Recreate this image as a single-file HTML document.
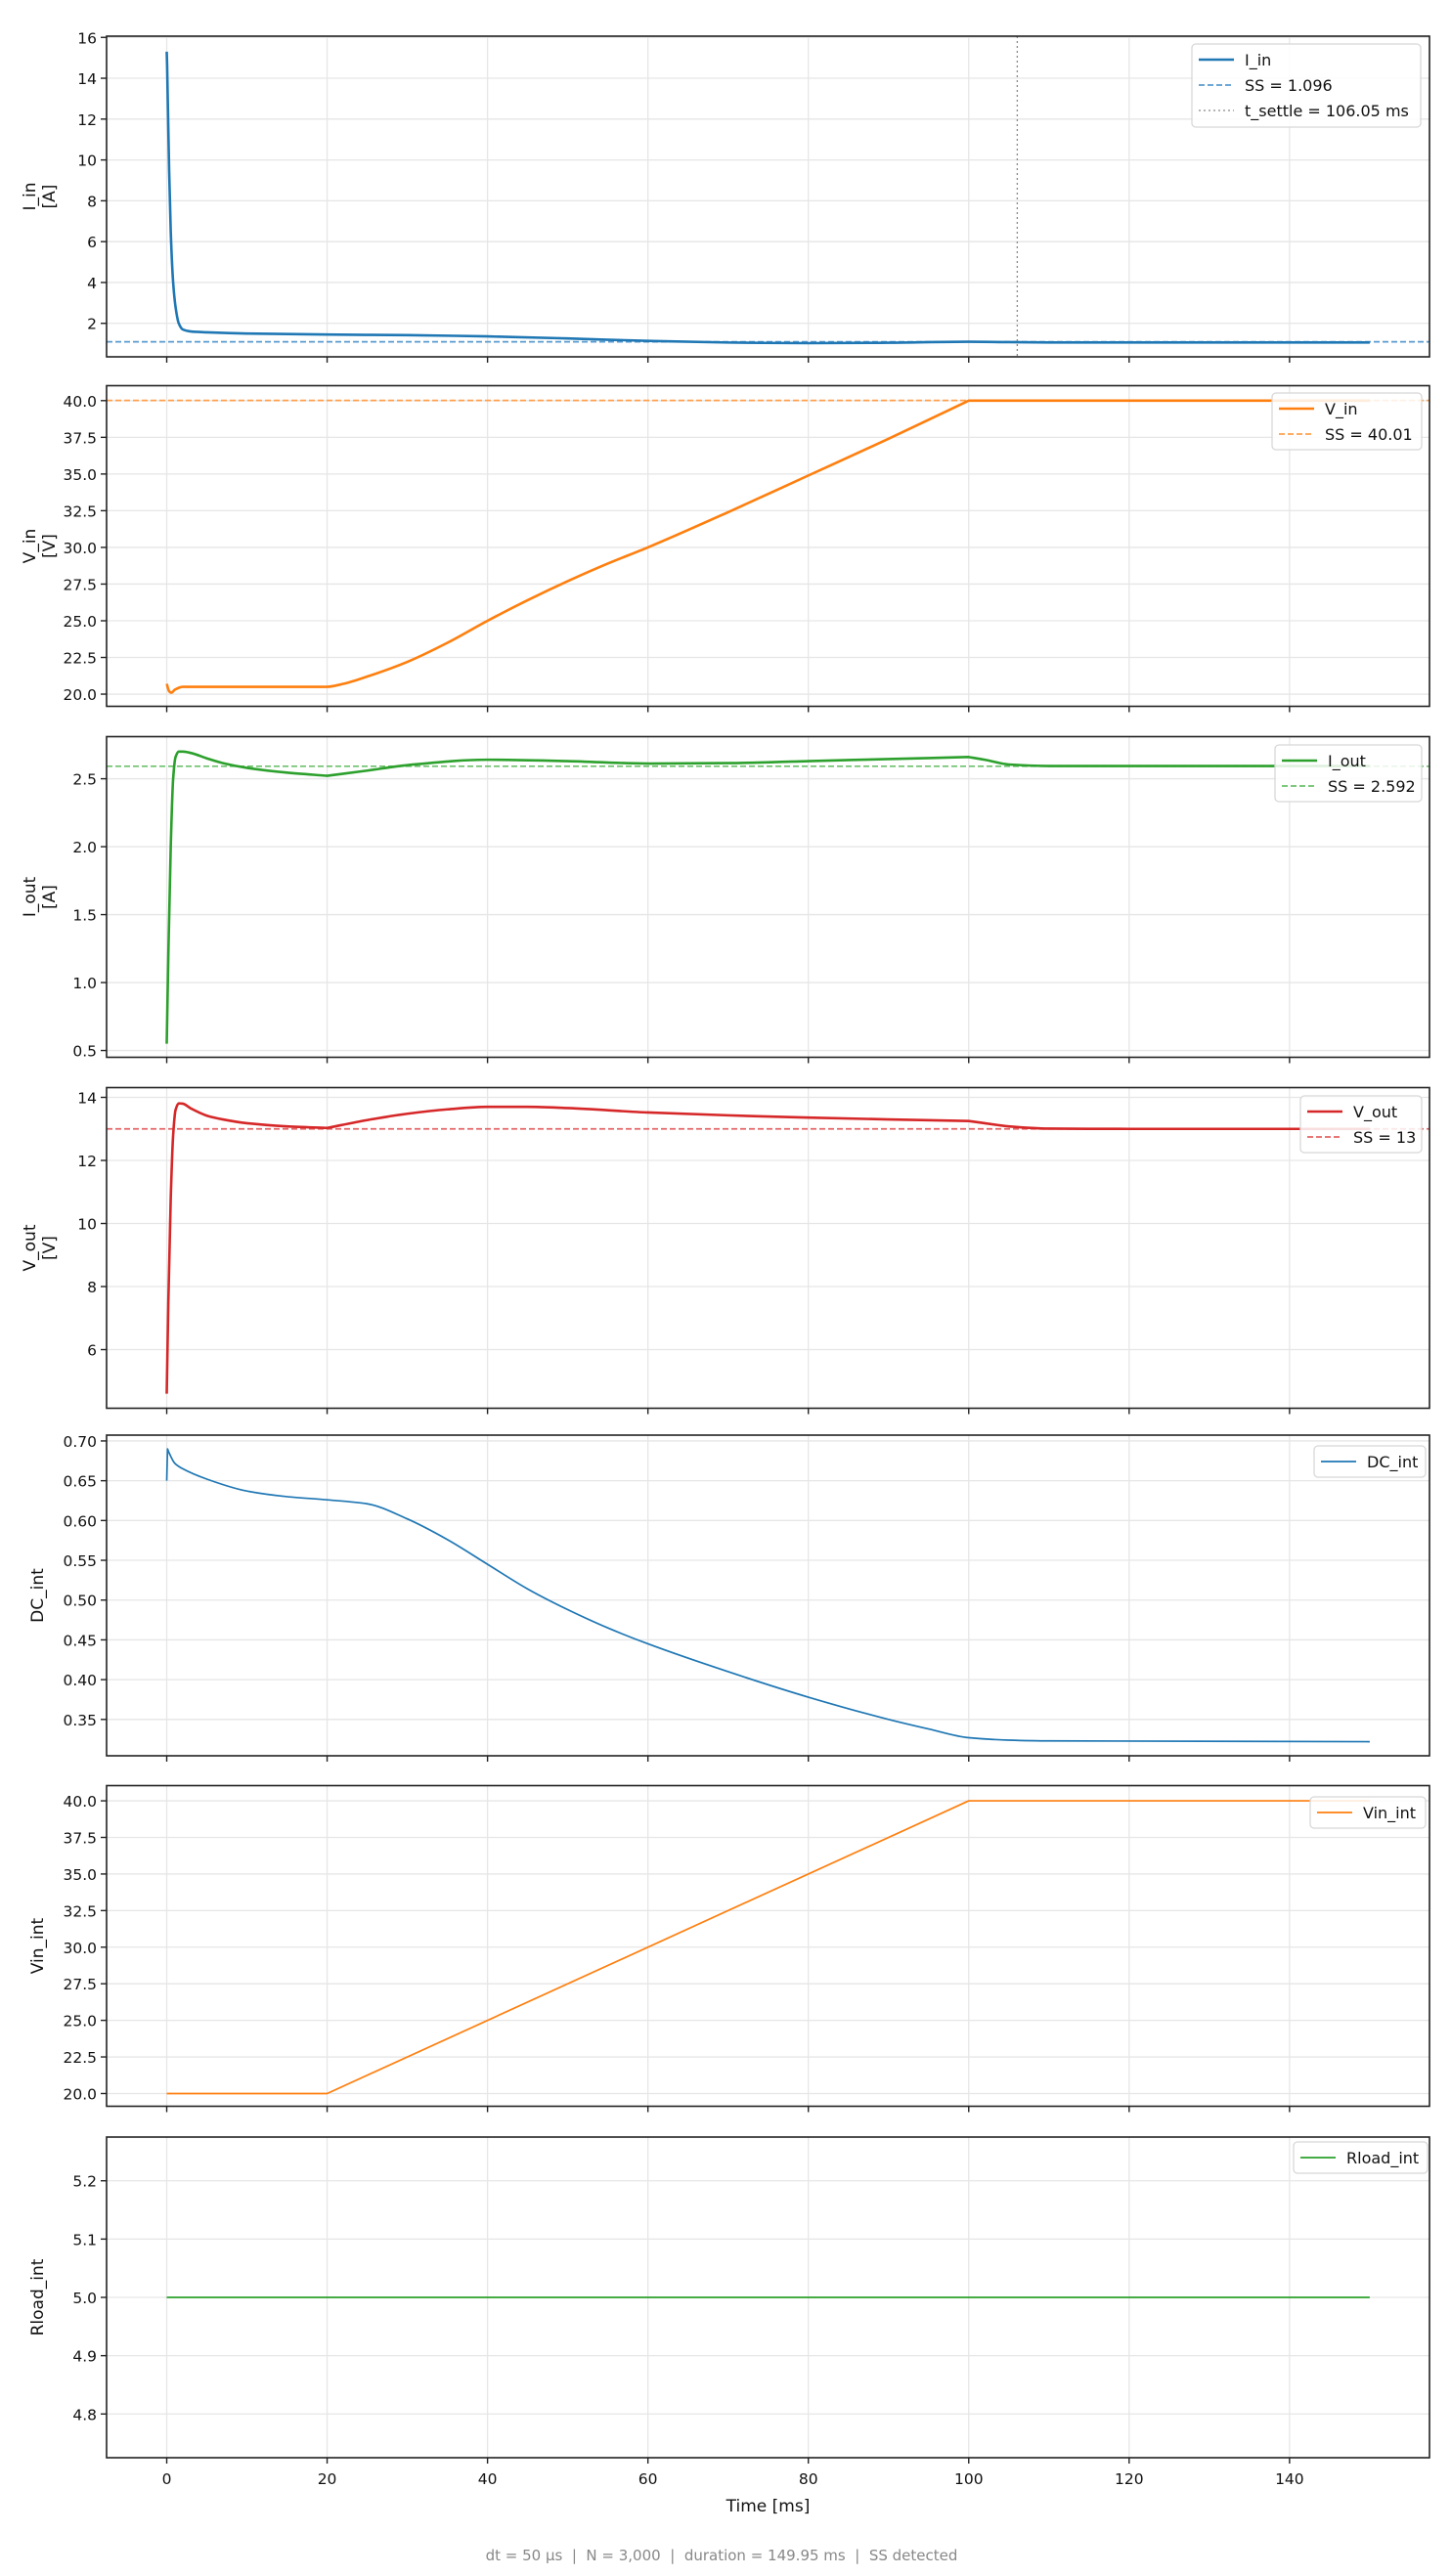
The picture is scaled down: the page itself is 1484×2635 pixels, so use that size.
<!DOCTYPE html>
<html><head><meta charset="utf-8">
<style>
html,body{margin:0;padding:0;background:#fff;}
svg{display:block;font-family:"DejaVu Sans","Liberation Sans",sans-serif;}
</style></head>
<body>
<svg id="chart" width="1484" height="2635" viewBox="0 0 1484 2635" xmlns="http://www.w3.org/2000/svg"></svg>
<script>
// ---- data ----
const xTicks = [0,20,40,60,80,100,120,140];
const iinT = [0,0.05,0.15,0.3,0.5,0.8,1.1,1.5,2,3,5,10,20,30,40,50,60,70,80,90,100,105,110,120,150];
const iinV = [15.3,14.6,12.5,9.5,6.5,4.0,2.8,2.0,1.7,1.6,1.56,1.5,1.45,1.42,1.36,1.26,1.14,1.06,1.03,1.05,1.1,1.08,1.065,1.065,1.065];
const iinSS = 1.096, iinSettle = 106.05;
const vinT = [0,0.3,0.6,1,2,5,10,20,22,25,30,35,40,45,50,55,60,70,80,90,100,110,150];
const vinV = [20.7,20.2,20.1,20.3,20.5,20.5,20.5,20.5,20.7,21.2,22.2,23.5,25.0,26.4,27.7,28.9,30.0,32.4,34.9,37.4,40.0,40.0,40.0];
const vinSS = 40.01;
const ioutT = [0,0.2,0.5,0.8,1.1,1.5,2,3,5,7,10,15,20,25,30,40,50,60,70,80,90,100,102,105,110,120,150];
const ioutV = [0.55,1.2,2.0,2.5,2.66,2.70,2.70,2.69,2.65,2.615,2.58,2.545,2.522,2.56,2.60,2.64,2.63,2.612,2.615,2.63,2.645,2.66,2.64,2.605,2.594,2.594,2.594];
const ioutSS = 2.592;
const voutT = [0,0.2,0.5,0.8,1.1,1.5,2,3,5,7,10,15,20,25,30,35,40,45,50,60,70,80,90,100,102,105,110,120,150];
const voutV = [4.6,7.5,10.8,12.8,13.6,13.81,13.8,13.65,13.42,13.3,13.18,13.08,13.03,13.28,13.48,13.62,13.70,13.70,13.66,13.52,13.43,13.36,13.3,13.25,13.18,13.08,13.01,13.0,13.0];
const voutSS = 13;
const dcT = [0,0.1,0.3,1,2,5,10,15,20,25,30,35,40,45,50,55,60,70,80,90,95,100,105,110,150];
const dcV = [0.65,0.69,0.685,0.672,0.665,0.652,0.637,0.63,0.626,0.621,0.602,0.576,0.545,0.514,0.488,0.465,0.445,0.41,0.378,0.35,0.338,0.327,0.324,0.323,0.322];
const vintT = [0,20,100,150];
const vintV = [20,20,40,40];
const rloadT = [0,150];
const rloadV = [5.0,5.0];

const panels = [
  {name:'i-in', top:37, ylim:[0.36,16.06], ticks:[2,4,6,8,10,12,14,16], fmt:v=>String(v), label:['I_in','[A]'], t:iinT, v:iinV, kinks:[0.05], color:'#1f77b4', lw:2.6, ss:iinSS, ssColor:'#5a9bd0', settle:iinSettle, legend:['I_in','SS = 1.096','t_settle = 106.05 ms']},
  {name:'v-in', top:394.5, ylim:[19.17,41.02], ticks:[20,22.5,25,27.5,30,32.5,35,37.5,40], fmt:v=>v.toFixed(1), label:['V_in','[V]'], t:vinT, v:vinV, kinks:[100], color:'#ff7f0e', lw:2.6, ss:vinSS, ssColor:'#ffa04d', legend:['V_in','SS = 40.01']},
  {name:'i-out', top:753.5, ylim:[0.45,2.81], ticks:[0.5,1.0,1.5,2.0,2.5], fmt:v=>v.toFixed(1), label:['I_out','[A]'], t:ioutT, v:ioutV, kinks:[20,100], color:'#2ca02c', lw:2.6, ss:ioutSS, ssColor:'#6cc06c', legend:['I_out','SS = 2.592']},
  {name:'v-out', top:1112.5, ylim:[4.14,14.31], ticks:[6,8,10,12,14], fmt:v=>String(v), label:['V_out','[V]'], t:voutT, v:voutV, kinks:[20,100], color:'#d62728', lw:2.6, ss:voutSS, ssColor:'#e46566', legend:['V_out','SS = 13']},
  {name:'dc-int', top:1468, ylim:[0.3043,0.7073], ticks:[0.35,0.40,0.45,0.50,0.55,0.60,0.65,0.70], fmt:v=>v.toFixed(2), label:['DC_int'], t:dcT, v:dcV, kinks:[0.1], color:'#1f77b4', lw:1.7, legend:['DC_int']},
  {name:'vin-int', top:1826.5, ylim:[19.13,41.04], ticks:[20,22.5,25,27.5,30,32.5,35,37.5,40], fmt:v=>v.toFixed(1), label:['Vin_int'], t:vintT, v:vintV, linear:true, color:'#ff7f0e', lw:1.7, legend:['Vin_int']},
  {name:'rload-int', top:2186, ylim:[4.725,5.275], ticks:[4.8,4.9,5.0,5.1,5.2], fmt:v=>v.toFixed(1), label:['Rload_int'], t:rloadT, v:rloadV, linear:true, color:'#2ca02c', lw:1.7, legend:['Rload_int']}
];
const legendBoxes = [[1219,45,234,85],[1301,402,153,58],[1304,762,150,58],[1330,1121,124,58],[1344,1479,114,32],[1340,1838,118,32],[1323,2191,137,32]];

// ---- drawing ----
const NS='http://www.w3.org/2000/svg';
const svg=document.getElementById('chart');
const L=109, R=1462, H=328, X0=-7.5, X1=157.45;
const xs = t => L + (t - X0)/(X1 - X0)*(R - L);
function mk(tag, attrs, parent){const e=document.createElementNS(NS,tag);for(const k in attrs)e.setAttribute(k,attrs[k]);(parent||svg).appendChild(e);return e;}
function linPath(px,py){return px.map((x,i)=>(i?'L':'M')+x.toFixed(2)+','+py[i].toFixed(2)).join(' ');}
// monotone cubic path with optional kink points (one-sided tangents)
function monoPath(px,py,kinkIdx){
  const n=px.length; if(n<3) return linPath(px,py);
  const dx=[],s=[];
  for(let i=0;i<n-1;i++){dx.push(px[i+1]-px[i]);s.push((py[i+1]-py[i])/(dx[i]||1e-9));}
  const mL=[0],mR=[s[0]];
  for(let i=1;i<n-1;i++){
    if(kinkIdx.has(i)){mL.push(s[i-1]);mR.push(s[i]);continue;}
    let m; if(s[i-1]*s[i]<=0) m=0; else { const w1=2*dx[i]+dx[i-1], w2=dx[i]+2*dx[i-1]; m=(w1+w2)/(w1/s[i-1]+w2/s[i]); }
    mL.push(m);mR.push(m);
  }
  mL.push(s[n-2]);mR.push(0);
  let d='M'+px[0].toFixed(2)+','+py[0].toFixed(2);
  for(let i=0;i<n-1;i++){const h=dx[i]/3;
    d+=` C${(px[i]+h).toFixed(2)},${(py[i]+mR[i]*h).toFixed(2)} ${(px[i+1]-h).toFixed(2)},${(py[i+1]-mL[i+1]*h).toFixed(2)} ${px[i+1].toFixed(2)},${py[i+1].toFixed(2)}`;}
  return d;
}

panels.forEach((p,pi)=>{
  const top=p.top, bot=p.top+H;
  const ys = v => bot - (v - p.ylim[0])/(p.ylim[1]-p.ylim[0])*H;
  const g=mk('g',{});
  
  
  xTicks.forEach(t=>{ const gl=mk('line',{x1:xs(t),x2:xs(t),y1:top,y2:bot,stroke:'#e6e6e6','stroke-width':1.3},g);
    
     });
  p.ticks.forEach(v=>{ const gl=mk('line',{x1:L,x2:R,y1:ys(v),y2:ys(v),stroke:'#e6e6e6','stroke-width':1.3},g);
    
     });
  if(p.ss!==undefined){ const s=mk('line',{x1:L,x2:R,y1:ys(p.ss),y2:ys(p.ss),stroke:p.ssColor,'stroke-width':1.7,'stroke-dasharray':'6 3'},g);
    
     }
  const px=p.t.map(xs), py=p.v.map(ys);
  const kinkIdx=new Set((p.kinks||[]).map(k=>p.t.indexOf(k)));
  const d = p.linear ? linPath(px,py) : monoPath(px,py,kinkIdx);
  const path=mk('path',{d:d,fill:'none',stroke:p.color,'stroke-width':p.lw,'stroke-linejoin':'round'},g);
  
  
  if(p.settle!==undefined){ const s=mk('line',{x1:xs(p.settle),x2:xs(p.settle),y1:top,y2:bot,stroke:'#888','stroke-width':1.3,'stroke-dasharray':'2 3'},g);
    
     }
  const sp=mk('rect',{x:L,y:top,width:R-L,height:H,fill:'none',stroke:'#222','stroke-width':1.6},g);
  
  
  xTicks.forEach(t=>{ mk('line',{x1:xs(t),x2:xs(t),y1:bot,y2:bot+6,stroke:'#222','stroke-width':1.4},g);
    if(pi===panels.length-1){ const tx=mk('text',{x:xs(t),y:bot+27,'text-anchor':'middle','font-size':15.5,fill:'#111'},g); tx.textContent=t;
      
       } });
  p.ticks.forEach(v=>{ mk('line',{x1:L-6,x2:L,y1:ys(v),y2:ys(v),stroke:'#222','stroke-width':1.4},g);
    const tx=mk('text',{x:L-10,y:ys(v)+6,'text-anchor':'end','font-size':15.5,fill:'#111'},g); tx.textContent=p.fmt(v);
    
     });
  const cy=top+H/2;
  const lab=mk('text',{transform:`translate(${p.label.length>1?36:44},${cy}) rotate(-90)`,'text-anchor':'middle','font-size':17,fill:'#111'},g);
  
  
  p.label.forEach((s,i)=>{ const ts=mk('tspan',{x:0,dy:i?20:0},lab); ts.textContent=s; });
  const b=legendBoxes[pi];
  const lg=mk('g',{},g);
  
  
  mk('rect',{x:b[0],y:b[1],width:b[2],height:b[3],rx:4,fill:'#fff','fill-opacity':0.85,stroke:'#d8d8d8','stroke-width':1.3},lg);
  p.legend.forEach((s,i)=>{
    const ry=b[1]+16+i*26;
    let st={x1:b[0]+7,x2:b[0]+43,y1:ry,y2:ry,stroke:p.color,'stroke-width':p.lw};
    if(i===1&&p.ss!==undefined){st.stroke=p.ssColor;st['stroke-width']=1.7;st['stroke-dasharray']='6 3';}
    if(i===2){st.stroke='#888';st['stroke-width']=1.3;st['stroke-dasharray']='2 3';}
    const ln=mk('line',st,lg);
    
    
    const tx=mk('text',{x:b[0]+54,y:ry+6,'font-size':16,fill:'#111'},lg); tx.textContent=s;
    
    
  });
});
const xl=mk('text',{x:(L+R)/2,y:2569,'text-anchor':'middle','font-size':17,fill:'#111'}); xl.textContent='Time [ms]';


const ft=mk('text',{x:738,y:2619,'text-anchor':'middle','font-size':15,fill:'#888'}); ft.textContent='dt = 50 µs  |  N = 3,000  |  duration = 149.95 ms  |  SS detected';


ft.style.whiteSpace='pre';
</script>
</body></html>
